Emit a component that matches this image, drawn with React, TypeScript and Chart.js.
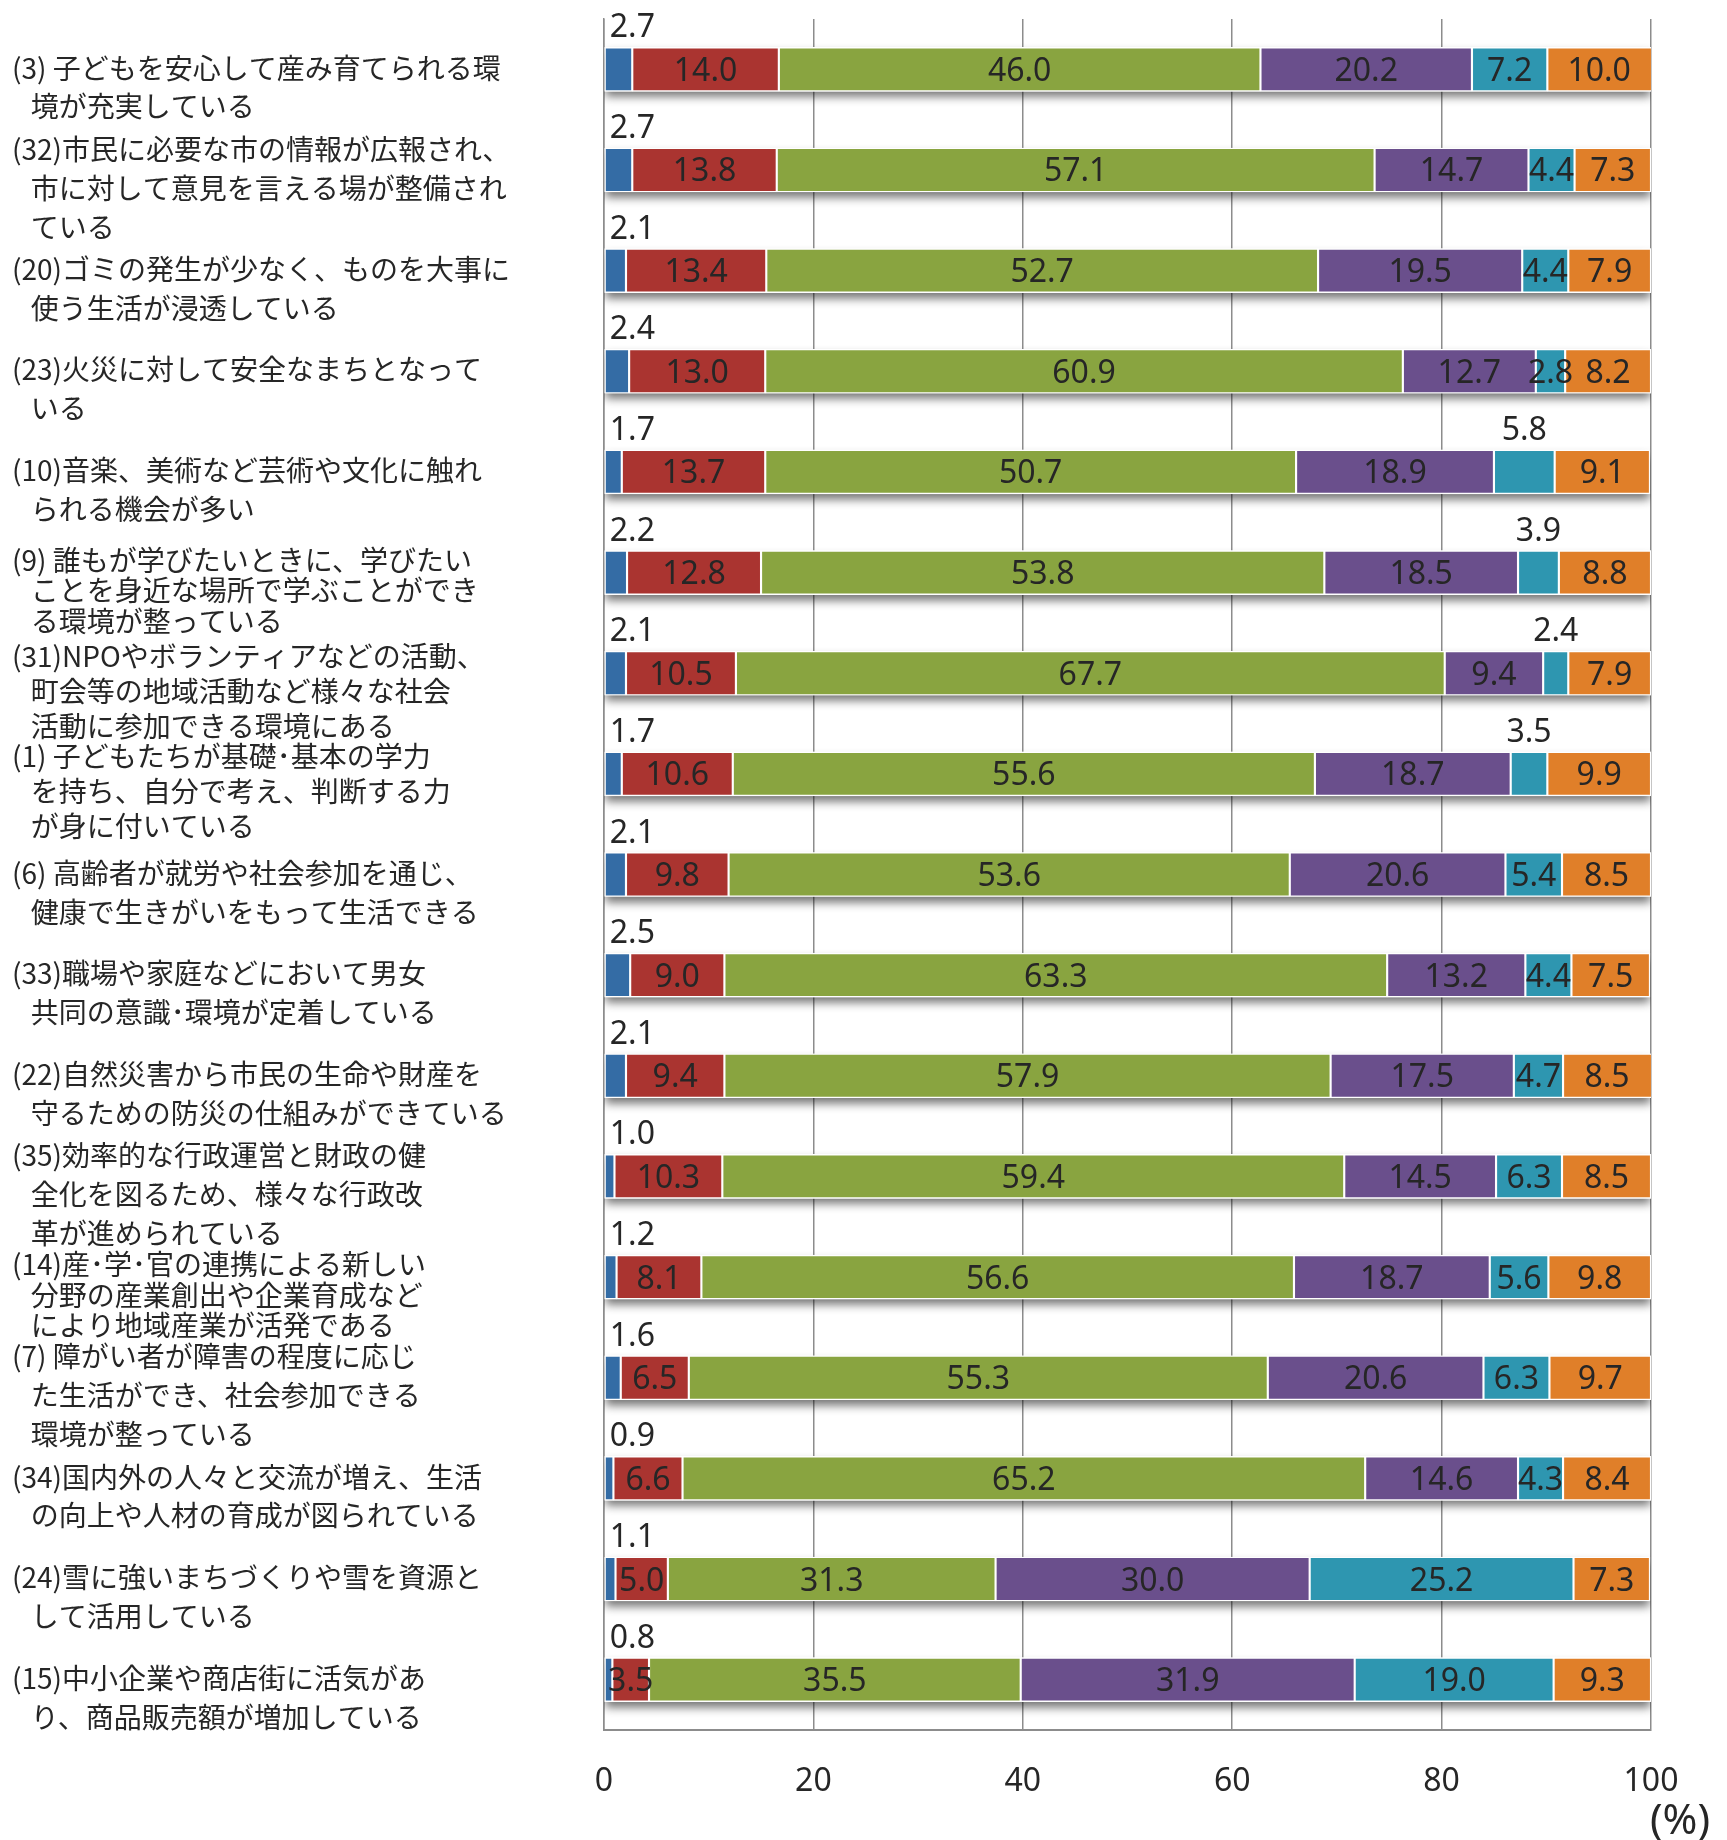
import React, { useEffect, useRef } from "react";
import { Chart, registerables } from "chart.js";

Chart.register(...registerables);

const categories: string[][] = [
  ["(3) 子どもを安心して産み育てられる環", "境が充実している"],
  ["(32)市民に必要な市の情報が広報され、", "市に対して意見を言える場が整備され", "ている"],
  ["(20)ゴミの発生が少なく、ものを大事に", "使う生活が浸透している"],
  ["(23)火災に対して安全なまちとなって", "いる"],
  ["(10)音楽、美術など芸術や文化に触れ", "られる機会が多い"],
  ["(9) 誰もが学びたいときに、学びたい", "ことを身近な場所で学ぶことができ", "る環境が整っている"],
  ["(31)NPOやボランティアなどの活動、", "町会等の地域活動など様々な社会", "活動に参加できる環境にある"],
  ["(1) 子どもたちが基礎･基本の学力", "を持ち、自分で考え、判断する力", "が身に付いている"],
  ["(6) 高齢者が就労や社会参加を通じ、", "健康で生きがいをもって生活できる"],
  ["(33)職場や家庭などにおいて男女", "共同の意識･環境が定着している"],
  ["(22)自然災害から市民の生命や財産を", "守るための防災の仕組みができている"],
  ["(35)効率的な行政運営と財政の健", "全化を図るため、様々な行政改", "革が進められている"],
  ["(14)産･学･官の連携による新しい", "分野の産業創出や企業育成など", "により地域産業が活発である"],
  ["(7) 障がい者が障害の程度に応じ", "た生活ができ、社会参加できる", "環境が整っている"],
  ["(34)国内外の人々と交流が増え、生活", "の向上や人材の育成が図られている"],
  ["(24)雪に強いまちづくりや雪を資源と", "して活用している"],
  ["(15)中小企業や商店街に活気があ", "り、商品販売額が増加している"],
];

const seriesNames = ["満足", "やや満足", "どちらともいえない", "やや不満", "不満", "無回答"];

const series1 = [2.7, 2.7, 2.1, 2.4, 1.7, 2.2, 2.1, 1.7, 2.1, 2.5, 2.1, 1.0, 1.2, 1.6, 0.9, 1.1, 0.8];
const series2 = [14.0, 13.8, 13.4, 13.0, 13.7, 12.8, 10.5, 10.6, 9.8, 9.0, 9.4, 10.3, 8.1, 6.5, 6.6, 5.0, 3.5];
const series3 = [46.0, 57.1, 52.7, 60.9, 50.7, 53.8, 67.7, 55.6, 53.6, 63.3, 57.9, 59.4, 56.6, 55.3, 65.2, 31.3, 35.5];
const series4 = [20.2, 14.7, 19.5, 12.7, 18.9, 18.5, 9.4, 18.7, 20.6, 13.2, 17.5, 14.5, 18.7, 20.6, 14.6, 30.0, 31.9];
const series5 = [7.2, 4.4, 4.4, 2.8, 5.8, 3.9, 2.4, 3.5, 5.4, 4.4, 4.7, 6.3, 5.6, 6.3, 4.3, 25.2, 19.0];
const series6 = [10.0, 7.3, 7.9, 8.2, 9.1, 8.8, 7.9, 9.9, 8.5, 7.5, 8.5, 8.5, 9.8, 9.7, 8.4, 7.3, 9.3];

const xTicks = [0, 20, 40, 60, 80, 100];
const unitLabel = "(%)";

const seriesValues = [series1, series2, series3, series4, series5, series6];
const seriesColors = ["#346CA5", "#AA3430", "#89A440", "#6A4F8C", "#2E96B0", "#E07F29"];

// rows whose 5th-series label sits above the bar (as in the original)
const cyanAboveRows = [4, 5, 6, 7];
// rows whose category text is set with tighter line spacing (as in the original)
const tightLabelRows = [5, 12];
const mediumLabelRows = [6, 7];

const TEXT = "#262626";
const GRID = "#8c8c8c";
const BAR_T = 44;
const VAL_FONT = '32px "Noto Sans"';

const shadowPlugin = {
  id: "barShadow",
  beforeDatasetsDraw(chart: any) {
    const ctx = chart.ctx;
    const lastMeta = chart.getDatasetMeta(chart.data.datasets.length - 1);
    const firstMeta = chart.getDatasetMeta(0);
    ctx.save();
    ctx.beginPath();
    ctx.rect(chart.chartArea.left, chart.chartArea.top, chart.chartArea.right - chart.chartArea.left, chart.chartArea.bottom - chart.chartArea.top + 30);
    ctx.clip();
    ctx.shadowColor = "rgba(0,0,0,0.55)";
    ctx.shadowBlur = 9;
    ctx.shadowOffsetY = 6;
    ctx.fillStyle = "#ffffff";
    for (let i = 0; i < lastMeta.data.length; i++) {
      const b0 = firstMeta.data[i].getProps(["base", "y"], true);
      const b1 = lastMeta.data[i].getProps(["x"], true);
      const right = Math.min(b1.x, chart.chartArea.right);
      ctx.fillRect(b0.base, b0.y - BAR_T / 2, right - b0.base, BAR_T);
    }
    ctx.restore();
  },
};

const labelPlugin = {
  id: "valueLabels",
  afterDatasetsDraw(chart: any) {
    const ctx = chart.ctx;
    ctx.save();
    ctx.font = VAL_FONT;
    ctx.fillStyle = TEXT;
    ctx.textBaseline = "alphabetic";
    chart.data.datasets.forEach((ds: any, d: number) => {
      const meta = chart.getDatasetMeta(d);
      meta.data.forEach((bar: any, i: number) => {
        const p = bar.getProps(["x", "y", "base", "height"], true);
        const v = ds.data[i];
        const txt = v.toFixed(1);
        const right = Math.min(p.x, chart.chartArea.right);
        const cx = (p.base + right) / 2;
        const top = p.y - BAR_T / 2;
        if (d === 0) {
          ctx.textAlign = "left";
          ctx.fillText(txt, p.base + 5, top - 10);
        } else if (d === 4 && cyanAboveRows.includes(i)) {
          ctx.textAlign = "center";
          ctx.fillText(txt, cx, top - 10);
        } else {
          ctx.textAlign = "center";
          ctx.fillText(txt, cx, p.y + 11.5);
        }
      });
    });
    ctx.restore();
  },
  afterDraw(chart: any) {
    const ctx = chart.ctx;
    const xs = chart.scales.x;
    ctx.save();
    ctx.font = '42px "Noto Sans"';
    ctx.fillStyle = TEXT;
    ctx.textAlign = "center";
    ctx.textBaseline = "alphabetic";
    ctx.fillText(unitLabel, xs.getPixelForValue(100) + 29, xs.bottom + 38);
    ctx.restore();
  },
};

export default function App() {
  const ref = useRef<HTMLCanvasElement>(null);
  useEffect(() => {
    if (!ref.current) return;
    const chart = new Chart(ref.current, {
      type: "bar",
      data: {
        labels: categories,
        datasets: seriesValues.map((vals, k) => ({
          label: seriesNames[k],
          data: vals,
          backgroundColor: seriesColors[k],
          borderColor: "#ffffff",
          borderWidth: 1.4,
          borderSkipped: false,
          barThickness: BAR_T,
        })),
      },
      options: {
        indexAxis: "y",
        responsive: false,
        animation: false,
        devicePixelRatio: 1,
        layout: { padding: { left: 12, right: 76, top: 19, bottom: 44 } },
        plugins: {
          legend: { display: false },
          tooltip: { enabled: false },
        },
        scales: {
          x: {
            stacked: true,
            min: 0,
            max: 100,
            afterBuildTicks: (scale: any) => {
              scale.ticks = xTicks.map((v) => ({ value: v }));
            },
            afterFit: (scale: any) => {
              scale.height = 66;
              scale.paddingLeft = 0;
              scale.paddingRight = 0;
            },
            ticks: {
              color: TEXT,
              font: { family: "Noto Sans", size: 32, lineHeight: 1.2 },
              padding: 33,
            },
            grid: { color: GRID, lineWidth: 1.5, drawTicks: false },
            border: { display: true, color: GRID, width: 2 },
          },
          y: {
            stacked: true,
            afterFit: (scale: any) => {
              scale.width = 592;
              scale.paddingTop = 0;
              scale.paddingBottom = 0;
            },
            ticks: {
              autoSkip: false,
              crossAlign: "far",
              labelOffset: 18,
              padding: 0,
              color: TEXT,
              font: (ctx: any) => {
                const i = ctx.index;
                let lh = 1.39;
                if (tightLabelRows.includes(i)) lh = 1.09;
                else if (mediumLabelRows.includes(i)) lh = 1.25;
                return { family: '"Noto Sans CJK JP"', size: 28, lineHeight: lh };
              },
              callback: function (this: any, value: any) {
                const lines = this.getLabelForValue(value) as any;
                const arr = Array.isArray(lines) ? lines : [String(lines)];
                return arr.map((l: string, j: number) => (j === 0 ? l : "   " + l));
              },
            },
            grid: { display: false, drawTicks: false },
            border: { display: true, color: GRID, width: 1.5 },
          },
        },
      },
      plugins: [shadowPlugin, labelPlugin],
    } as any);
    return () => chart.destroy();
  }, []);
  return (
    <div style={{ position: "fixed", left: 0, top: 0, width: 1727, height: 1840, background: "#ffffff" }}>
      <canvas ref={ref} width={1727} height={1840} style={{ display: "block" }} />
    </div>
  );
}
